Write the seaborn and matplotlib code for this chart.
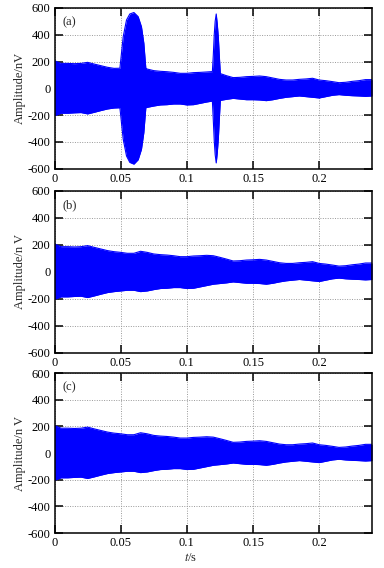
import numpy as np
import seaborn as sns
import matplotlib.pyplot as plt

# envelope of the background signal (read every 5 ms), nV
t_bg = [0.000, 0.005, 0.010, 0.015, 0.020, 0.025, 0.030, 0.035, 0.040, 0.045,
        0.050, 0.055, 0.060, 0.065, 0.070, 0.075, 0.080, 0.085, 0.090, 0.095,
        0.100, 0.105, 0.110, 0.115, 0.120, 0.125, 0.130, 0.135, 0.140, 0.145,
        0.150, 0.155, 0.160, 0.165, 0.170, 0.175, 0.180, 0.185, 0.190, 0.195,
        0.200, 0.205, 0.210, 0.215, 0.220, 0.225, 0.230, 0.235, 0.240]
upper_bg = [206, 186, 186, 184, 186, 194, 181, 169, 157, 149,
            144, 137, 137, 152, 144, 132, 127, 124, 119, 112,
            112, 117, 119, 122, 119, 107, 94, 80, 82, 87,
            89, 92, 87, 77, 67, 62, 62, 67, 70, 75,
            62, 57, 50, 42, 45, 52, 57, 65, 65]
lower_bg = [-204, -186, -186, -183, -181, -191, -179, -166, -154, -147,
            -142, -137, -137, -147, -142, -132, -124, -122, -117, -117,
            -124, -122, -112, -102, -92, -87, -82, -75, -80, -85,
            -85, -87, -92, -85, -75, -67, -62, -57, -62, -67,
            -72, -62, -52, -47, -52, -55, -57, -60, -57]

# bursts in record (a)
t_burst1 = [0.0494, 0.0519, 0.0544, 0.0569, 0.0600, 0.0632, 0.0657, 0.0675, 0.0690]
upper_burst1 = [150, 385, 510, 555, 566, 535, 460, 337, 150]
lower_burst1 = [-145, -380, -505, -553, -566, -533, -455, -330, -145]
t_burst2 = [0.1193, 0.1200, 0.1207, 0.1214, 0.1222, 0.1230, 0.1238, 0.1245, 0.1253]
upper_burst2 = [125, 250, 400, 500, 555, 480, 380, 250, 110]
lower_burst2 = [-95, -240, -390, -495, -557, -480, -375, -240, -90]

panel_tags = ["(a)", "(b)", "(c)"]
y_labels = ["Amplitude/nV", "Amplitude/n V", "Amplitude/n V"]
x_ticks = [0, 0.05, 0.1, 0.15, 0.2]
x_tick_labels = ["0", "0.05", "0.1", "0.15", "0.2"]
y_ticks = [600, 400, 200, 0, -200, -400, -600]


def panel_a_envelope():
    t = np.array(t_bg)
    up = np.array(upper_bg)
    lo = np.array(lower_bg)
    seg1 = t < 0.049
    seg2 = (t > 0.069) & (t < 0.119)
    seg3 = t > 0.1255
    tt = np.concatenate([t[seg1], t_burst1, t[seg2], t_burst2, t[seg3]])
    uu = np.concatenate([up[seg1], upper_burst1, up[seg2], upper_burst2, up[seg3]])
    ll = np.concatenate([lo[seg1], lower_burst1, lo[seg2], lower_burst2, lo[seg3]])
    return tt, uu, ll


sns.set_style("ticks")
plt.rcParams["font.family"] = ["Liberation Serif", "DejaVu Serif"]
plt.rcParams["mathtext.fontset"] = "stix"
plt.rcParams["axes.unicode_minus"] = False

fig = plt.figure(figsize=(3.84, 5.68), dpi=100)
boxes = [(0.142, 0.703, 0.827, 0.283),
         (0.142, 0.379, 0.827, 0.285),
         (0.142, 0.0616, 0.827, 0.2817)]
fs = 9

for i, box in enumerate(boxes):
    ax = fig.add_axes(box)
    if i == 0:
        tt, uu, ll = panel_a_envelope()
    else:
        tt, uu, ll = np.array(t_bg), np.array(upper_bg), np.array(lower_bg)
    ax.fill_between(tt, ll, uu, color="#0000ff", linewidth=0, zorder=3)
    sns.lineplot(x=tt, y=uu, ax=ax, color="#0000ff", linewidth=0.8, zorder=3)
    sns.lineplot(x=tt, y=ll, ax=ax, color="#0000ff", linewidth=0.8, zorder=3)

    ax.set_xlim(0, 0.24)
    ax.set_ylim(-600, 600)
    ax.set_xticks(x_ticks)
    ax.set_xticklabels(x_tick_labels)
    ax.set_yticks(y_ticks)
    ax.grid(True, color="#999999", linestyle=(0, (1, 1.5)), linewidth=0.7, zorder=0)
    ax.set_axisbelow(True)
    ax.tick_params(direction="in", top=True, right=True, length=6, width=1.1,
                   labelsize=fs, pad=3, colors="black")
    for sp in ax.spines.values():
        sp.set_linewidth(1.1)
        sp.set_color("black")
        sp.set_zorder(5)
    ax.set_ylabel(y_labels[i], fontsize=fs, labelpad=1)
    ax.text(0.026, 0.95, panel_tags[i], transform=ax.transAxes, fontsize=fs,
            ha="left", va="top")
    if i == 2:
        ax.set_xlabel("$t$/s", fontsize=fs, labelpad=0)
        ax.xaxis.set_label_coords(0.43, -0.118)

fig.savefig("out.png", dpi=100)
